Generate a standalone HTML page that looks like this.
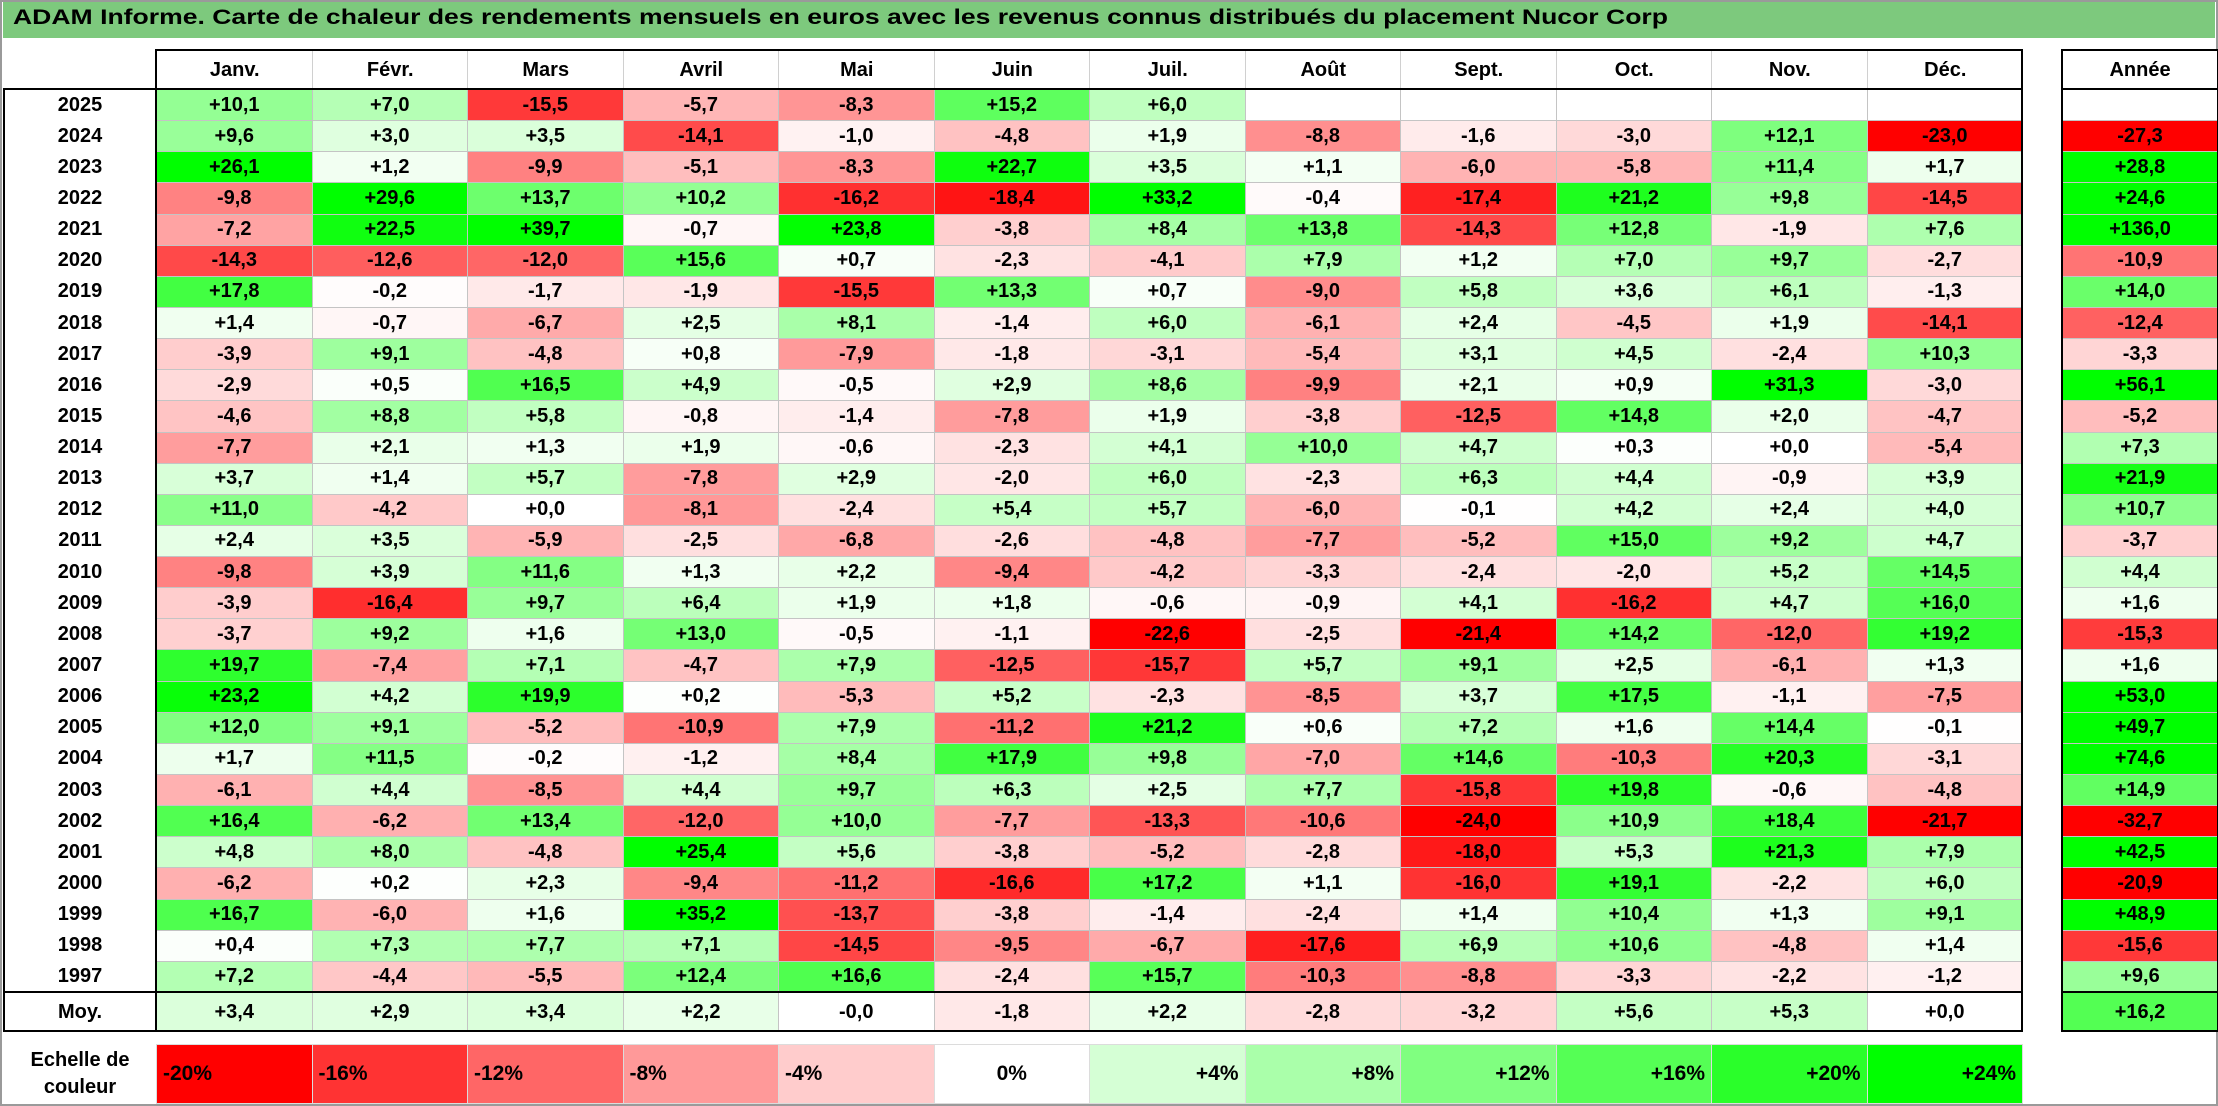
<!DOCTYPE html>
<html><head><meta charset="utf-8">
<style>
body{margin:0;background:#fff;}
#root{position:relative;width:2218px;height:1106px;overflow:hidden;background:#fff;font-family:"Liberation Sans",Arial,sans-serif;font-weight:bold;color:#000;}
.c{position:absolute;box-sizing:border-box;display:flex;align-items:center;justify-content:center;font-size:20px;border:1px solid #c4c4c4;}
.ln{position:absolute;background:#000;}
</style></head><body>
<div id="root">
<div style="position:absolute;left:0;top:0;width:2218px;height:1106px;box-sizing:border-box;border:2px solid #9a9a9a;"></div>
<div style="position:absolute;left:3px;top:2px;width:2212px;height:36px;background:#7dc97d;"></div>
<div id="title" style="position:absolute;left:13px;top:6px;font-size:21px;white-space:nowrap;transform-origin:0 0;">ADAM Informe. Carte de chaleur des rendements mensuels en euros avec les revenus connus distribués du placement Nucor Corp</div>
</div>
<script>
const months=["Janv.","Févr.","Mars","Avril","Mai","Juin","Juil.","Août","Sept.","Oct.","Nov.","Déc."];
const years=[2025,2024,2023,2022,2021,2020,2019,2018,2017,2016,2015,2014,2013,2012,2011,2010,2009,2008,2007,2006,2005,2004,2003,2002,2001,2000,1999,1998,1997];
const v2025=[10.1,7.0,-15.5,-5.7,-8.3,15.2,6.0,null,null,null,null,null];
const v2024=[9.6,3.0,3.5,-14.1,-1.0,-4.8,1.9,-8.8,-1.6,-3.0,12.1,-23.0];
const v2023=[26.1,1.2,-9.9,-5.1,-8.3,22.7,3.5,1.1,-6.0,-5.8,11.4,1.7];
const v2022=[-9.8,29.6,13.7,10.2,-16.2,-18.4,33.2,-0.4,-17.4,21.2,9.8,-14.5];
const v2021=[-7.2,22.5,39.7,-0.7,23.8,-3.8,8.4,13.8,-14.3,12.8,-1.9,7.6];
const v2020=[-14.3,-12.6,-12.0,15.6,0.7,-2.3,-4.1,7.9,1.2,7.0,9.7,-2.7];
const v2019=[17.8,-0.2,-1.7,-1.9,-15.5,13.3,0.7,-9.0,5.8,3.6,6.1,-1.3];
const v2018=[1.4,-0.7,-6.7,2.5,8.1,-1.4,6.0,-6.1,2.4,-4.5,1.9,-14.1];
const v2017=[-3.9,9.1,-4.8,0.8,-7.9,-1.8,-3.1,-5.4,3.1,4.5,-2.4,10.3];
const v2016=[-2.9,0.5,16.5,4.9,-0.5,2.9,8.6,-9.9,2.1,0.9,31.3,-3.0];
const v2015=[-4.6,8.8,5.8,-0.8,-1.4,-7.8,1.9,-3.8,-12.5,14.8,2.0,-4.7];
const v2014=[-7.7,2.1,1.3,1.9,-0.6,-2.3,4.1,10.0,4.7,0.3,0.0,-5.4];
const v2013=[3.7,1.4,5.7,-7.8,2.9,-2.0,6.0,-2.3,6.3,4.4,-0.9,3.9];
const v2012=[11.0,-4.2,0.0,-8.1,-2.4,5.4,5.7,-6.0,-0.1,4.2,2.4,4.0];
const v2011=[2.4,3.5,-5.9,-2.5,-6.8,-2.6,-4.8,-7.7,-5.2,15.0,9.2,4.7];
const v2010=[-9.8,3.9,11.6,1.3,2.2,-9.4,-4.2,-3.3,-2.4,-2.0,5.2,14.5];
const v2009=[-3.9,-16.4,9.7,6.4,1.9,1.8,-0.6,-0.9,4.1,-16.2,4.7,16.0];
const v2008=[-3.7,9.2,1.6,13.0,-0.5,-1.1,-22.6,-2.5,-21.4,14.2,-12.0,19.2];
const v2007=[19.7,-7.4,7.1,-4.7,7.9,-12.5,-15.7,5.7,9.1,2.5,-6.1,1.3];
const v2006=[23.2,4.2,19.9,0.2,-5.3,5.2,-2.3,-8.5,3.7,17.5,-1.1,-7.5];
const v2005=[12.0,9.1,-5.2,-10.9,7.9,-11.2,21.2,0.6,7.2,1.6,14.4,-0.1];
const v2004=[1.7,11.5,-0.2,-1.2,8.4,17.9,9.8,-7.0,14.6,-10.3,20.3,-3.1];
const v2003=[-6.1,4.4,-8.5,4.4,9.7,6.3,2.5,7.7,-15.8,19.8,-0.6,-4.8];
const v2002=[16.4,-6.2,13.4,-12.0,10.0,-7.7,-13.3,-10.6,-24.0,10.9,18.4,-21.7];
const v2001=[4.8,8.0,-4.8,25.4,5.6,-3.8,-5.2,-2.8,-18.0,5.3,21.3,7.9];
const v2000=[-6.2,0.2,2.3,-9.4,-11.2,-16.6,17.2,1.1,-16.0,19.1,-2.2,6.0];
const v1999=[16.7,-6.0,1.6,35.2,-13.7,-3.8,-1.4,-2.4,1.4,10.4,1.3,9.1];
const v1998=[0.4,7.3,7.7,7.1,-14.5,-9.5,-6.7,-17.6,6.9,10.6,-4.8,1.4];
const v1997=[7.2,-4.4,-5.5,12.4,16.6,-2.4,15.7,-10.3,-8.8,-3.3,-2.2,-1.2];
const yearTotals=[null,-27.3,28.8,24.6,136.0,-10.9,14.0,-12.4,-3.3,56.1,-5.2,7.3,21.9,10.7,-3.7,4.4,1.6,-15.3,1.6,53.0,49.7,74.6,14.9,-32.7,42.5,-20.9,48.9,-15.6,9.6];
const moyValues=[3.4,2.9,3.4,2.2,-0.01,-1.8,2.2,-2.8,-3.2,5.6,5.3,0.01];
const moyTotal=16.2;
const scaleSteps=[-20,-16,-12,-8,-4,0,4,8,12,16,20,24];

const rows=[v2025,v2024,v2023,v2022,v2021,v2020,v2019,v2018,v2017,v2016,v2015,v2014,v2013,v2012,v2011,v2010,v2009,v2008,v2007,v2006,v2005,v2004,v2003,v2002,v2001,v2000,v1999,v1998,v1997];
const root=document.getElementById('root');
const X0=156,CW=155.5,Y0=89,RH=(992-89)/29,AX=2062,AW=155;
function colX(i){return X0+i*CW;}
function rowY(i){return Y0+i*RH;}
function color(v){
  if(v===null)return '#fff';
  let t,c;
  if(v<0){t=Math.min(-v/20,1);c=Math.round(255*(1-t));return `rgb(255,${c},${c})`;}
  t=Math.min(v/24,1);c=Math.round(255*(1-t));return `rgb(${c},255,${c})`;
}
function fmt(v){if(v===null)return '';const s=Math.abs(v).toFixed(1).replace('.',',');return (v<0?'-':'+')+s;}
function cell(x,y,w,h,txt,bg,name,align){
  const d=document.createElement('div');d.className='c';
  d.style.left=x+'px';d.style.top=y+'px';d.style.width=(w+1)+'px';d.style.height=(h+1)+'px';
  d.style.background=bg;d.textContent=txt;
  if(align){d.style.justifyContent=align;d.style.padding='0 6px';}
  
  
  root.appendChild(d);return d;
}
function line(x,y,w,h,name){
  const d=document.createElement('div');d.className='ln';
  d.style.left=x+'px';d.style.top=y+'px';d.style.width=w+'px';d.style.height=h+'px';
  
  
  root.appendChild(d);
}
months.forEach((m,i)=>{const d=cell(colX(i),50,CW,39,m,'#fff','month-header');d.style.border='none';d.style.borderLeft='1px solid #d0d0d0';});
const ah=cell(AX,50,AW,39,'Année','#fff','year-total-header');ah.style.border='none';
rows.forEach((r,ri)=>{
  const y=rowY(ri);
  const yl=cell(3,y,X0-3,RH,String(years[ri]),'#fff','year-label');yl.style.border='none';
  r.forEach((v,ci)=>{cell(colX(ci),y,CW,RH,fmt(v),color(v),'cell-'+years[ri]+'-'+(ci+1));});
  cell(AX,y,AW,RH,fmt(yearTotals[ri]),color(yearTotals[ri]),'total-'+years[ri]);
});
const my=992,mh=39;
const ml=cell(3,my,X0-3,mh,'Moy.','#fff','average-label');ml.style.border='none';
moyValues.forEach((v,ci)=>{cell(colX(ci),my,CW,mh,fmt(v),color(Math.abs(v)<0.05?0:v),'average-'+(ci+1));});
cell(AX,my,AW,mh,fmt(moyTotal),color(moyTotal),'average-total');
// scale
const sl=cell(3,1044,X0-3,59,'','#fff','color-scale-label');sl.style.border='none';sl.style.textAlign='center';sl.style.lineHeight='27px';sl.innerHTML='Echelle de<br>couleur';
scaleSteps.forEach((s,i)=>{
  const txt=(s>0?'+':'')+s+'%';
  const al=s<0?'flex-start':(s>0?'flex-end':'center');
  const d=cell(colX(i),1044,CW,59,txt,color(s),'scale-step',al);d.style.fontSize='21px';d.style.border='1px solid #dcdcdc';
});
// black borders
line(156,49,2022-156,2,'header-top-border');
line(155,49,2,992-49+40,'data-left-border');
line(2021,49,2,992-49+40,'data-right-border');
line(3,88,2020,2,'header-bottom-border');
line(3,88,2,944,'table-left-border');
line(3,991,2020,2,'average-top-border');
line(3,1030,2020,2,'table-bottom-border');
line(AX,49,AW+1,2,'total-top-border');
line(AX,88,AW+1,2,'total-header-bottom');
line(AX-1,49,2,983,'total-left-border');
line(AX+AW,49,2,983,'total-right-border');
line(AX,991,AW+1,2,'total-average-border');
line(AX,1030,AW+1,2,'total-bottom-border');
// title fit
const t=document.getElementById('title');
const w=t.getBoundingClientRect().width;
t.style.transform='scaleX('+(1655/w)+')';
</script>
</body></html>
